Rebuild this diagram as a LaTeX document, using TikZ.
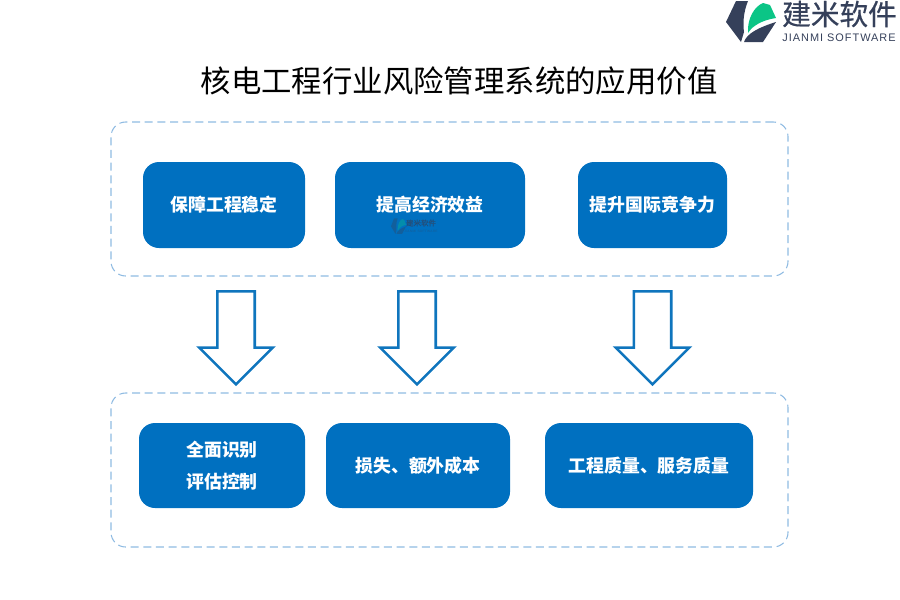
\documentclass[tikz,border=0pt]{standalone}
\usepackage{fontspec}
\setmainfont{Noto Sans CJK SC}
\newfontfamily\latinfont[LetterSpace=9]{Liberation Sans}
\newfontfamily\logofont[FakeBold=0.5]{Noto Sans CJK SC}
\usetikzlibrary{positioning, shapes.arrows}

\definecolor{blockblue}{HTML}{0070C0}
\definecolor{arrowblue}{HTML}{0F75BD}
\definecolor{panelblue}{HTML}{8FBBE2}
\definecolor{logodark}{HTML}{35405A}
\definecolor{logogreen}{HTML}{0BC586}

\begin{document}
\begin{tikzpicture}[
  x=0.75pt, y=-0.75pt,
  panel/.style={draw=panelblue, dashed, dash pattern=on 6pt off 3.5pt, line width=0.8pt, rounded corners=11pt, minimum width=507.75pt, minimum height=115.5pt},
  block/.style={fill=blockblue, rounded corners=12pt, text=white, font=\fontsize{13.4pt}{24pt}\selectfont\bfseries, align=center, minimum height=#1, inner sep=0pt},
  block/.default=64.5pt,
  downarrow/.style={single arrow, draw=arrowblue, line width=1.9pt, fill=white, shape border rotate=270, inner xsep=13.1pt, inner ysep=0pt, minimum height=69.75pt, single arrow head extend=13.5pt, single arrow head indent=0pt},
  logomark/.pic={
    \fill[logodark] (10,1) -- (22,1) .. controls (17,13) and (17,25) .. (18,32) -- (15,42) -- (0,22) -- cycle;
    \fill[logogreen] (22,33) .. controls (21,18) and (29,6) .. (37,3) -- (44,5) -- (50,18) .. controls (37,20) and (27,25) .. (22,33) -- cycle;
    \fill[logodark] (18,42) .. controls (21,33) and (34,27) .. (50,22) -- (37,42) -- cycle;
  }
]
  %------------------------------------------------------------
  %  CANVAS
  %------------------------------------------------------------
  \useasboundingbox (0,0) rectangle (900,600);

  %------------------------------------------------------------
  %  LOGO
  %------------------------------------------------------------
  \pic at (726,0) {logomark};
  \node[text=logodark, font=\fontsize{21.5pt}{24pt}\selectfont\logofont, inner sep=0pt] (logoname) at (839.5,14) {建米软件};
  \node[text=logodark, font=\fontsize{8.2pt}{10pt}\selectfont\latinfont, inner sep=0pt] (logosub) at (839,38) {JIANMI SOFTWARE};

  %------------------------------------------------------------
  %  TITLE
  %------------------------------------------------------------
  \node[font=\fontsize{22.8pt}{26pt}\selectfont, inner sep=0pt] (title) at (459,81) {核电工程行业风险管理系统的应用价值};

  %------------------------------------------------------------
  %  PANELS
  %------------------------------------------------------------
  \node[panel] (panelA) at (449.5,199) {};
  \node[panel] (panelB) at (449.5,470) {};

  %------------------------------------------------------------
  %  ROW 1
  %------------------------------------------------------------
  \node[block, minimum width=121.5pt] (safe)  at (224,205)   {保障工程稳定};
  \node[block, minimum width=142.5pt] (econ)  at (430,205)   {提高经济效益};
  \node[block, minimum width=111.75pt] (intl) at (652.5,205) {提升国际竞争力};

  %------------------------------------------------------------
  %  WATERMARK
  %------------------------------------------------------------
  \pic[opacity=0.35, xscale=0.3, yscale=0.38] at (391,218) {logomark};
  \node[text=logodark, text opacity=0.55, font=\fontsize{5.6pt}{6pt}\selectfont\logofont, inner sep=0pt] (mark) at (421,223) {建米软件};
  \node[text=logodark, text opacity=0.4, font=\fontsize{2.4pt}{3pt}\selectfont\latinfont, inner sep=0pt] (marksub) at (421,231) {JIANMI SOFTWARE};

  %------------------------------------------------------------
  %  ARROWS
  %------------------------------------------------------------
  \node[downarrow] (arrowA) at (236,328.5)   {};
  \node[downarrow] (arrowB) at (417,328.5)   {};
  \node[downarrow] (arrowC) at (652.5,328.5) {};

  %------------------------------------------------------------
  %  ROW 2
  %------------------------------------------------------------
  \node[block=63.75pt, minimum width=124.5pt] (scope) at (222,465.5) {全面识别\\评估控制};
  \node[block=63.75pt, minimum width=138pt] (loss)    at (418,465.5) {损失、额外成本};
  \node[block=63.75pt, minimum width=156pt] (quality) at (649,465.5) {工程质量、服务质量};

\end{tikzpicture}
\end{document}
